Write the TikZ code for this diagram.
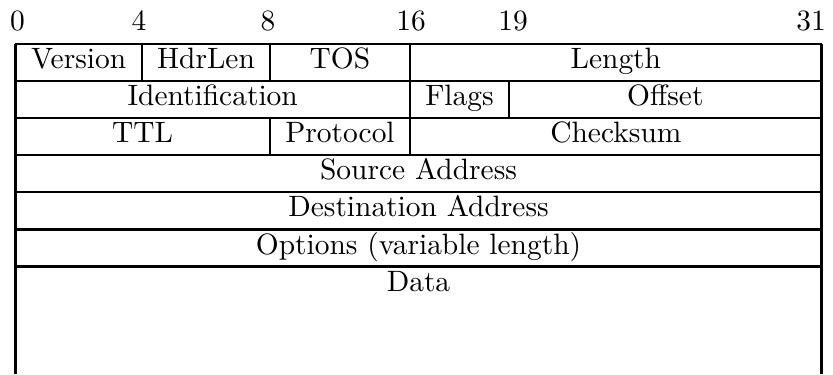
\documentclass[tikz,border=0pt]{standalone}
\begin{document}
\begin{tikzpicture}[x=0.3717pt,y=-0.3717pt,
  font=\fontsize{10.95}{13.6}\selectfont,
  rule/.style={line width=0.95pt},
  field/.style={anchor=base,inner sep=0pt,outer sep=0pt},
  bitno/.style={anchor=base,inner sep=0pt,outer sep=0pt}]
\useasboundingbox (0,0) rectangle (833,374);

% column boundaries (bit positions) and row boundaries
\def\cA{15.3}  \def\cB{142}  \def\cC{270}
\def\cD{410}   \def\cE{509}  \def\cF{821.7}
\def\rA{44}    \def\rB{81}   \def\rC{118}  \def\rD{155}
\def\rE{192}   \def\rF{229.5} \def\rG{266.5} \def\rH{374}

% bit numbers above the header
\node[bitno] (b0)  at (17.5,30) {0};
\node[bitno] (b4)  at (139,30)  {4};
\node[bitno] (b8)  at (268,30)  {8};
\node[bitno] (b16) at (411,30)  {16};
\node[bitno] (b19) at (513,30)  {19};
\node[bitno] (b31) at (811,30)  {31};

% horizontal rules
\foreach \r in {\rA,\rB,\rC,\rD,\rE,\rF,\rG}
  \draw[rule] (\cA,\r) -- (\cF,\r);
% outer sides, open at the bottom of the data area
\draw[rule] (\cA,\rA) -- (\cA,\rH);
\draw[rule] (\cF,\rA) -- (\cF,\rH);

% inner separators
\draw[rule] (\cB,\rA) -- (\cB,\rB);
\draw[rule] (\cC,\rA) -- (\cC,\rB);
\draw[rule] (\cD,\rA) -- (\cD,\rD);
\draw[rule] (\cE,\rB) -- (\cE,\rC);
\draw[rule] (\cC,\rC) -- (\cC,\rD);

% field names
\node[field] (ver)  at ({(\cA+\cB)/2},{\rA+24.5}) {Version};
\node[field] (hlen) at ({(\cB+\cC)/2},{\rA+24.5}) {HdrLen};
\node[field] (tos)  at ({(\cC+\cD)/2},{\rA+24.5}) {TOS};
\node[field] (len)  at ({(\cD+\cF)/2},{\rA+24.5}) {Length};

\node[field] (ident) at ({(\cA+\cD)/2},{\rB+24.5}) {Identification};
\node[field] (flags) at ({(\cD+\cE)/2},{\rB+24.5}) {Flags};
\node[field] (offs)  at ({(\cE+\cF)/2},{\rB+24.5}) {Offset};

\node[field] (ttl)   at ({(\cA+\cC)/2},{\rC+24.5}) {TTL};
\node[field] (proto) at ({(\cC+\cD)/2},{\rC+24.5}) {Protocol};
\node[field] (csum)  at ({(\cD+\cF)/2},{\rC+24.5}) {Checksum};

\node[field] (src)  at ({(\cA+\cF)/2},{\rD+24.5}) {Source Address};
\node[field] (dst)  at ({(\cA+\cF)/2},{\rE+24.5}) {Destination Address};
\node[field] (opts) at ({(\cA+\cF)/2},{\rF+24.5}) {Options (variable length)};
\node[field] (data) at ({(\cA+\cF)/2},{\rG+25})   {Data};
\end{tikzpicture}
\end{document}
